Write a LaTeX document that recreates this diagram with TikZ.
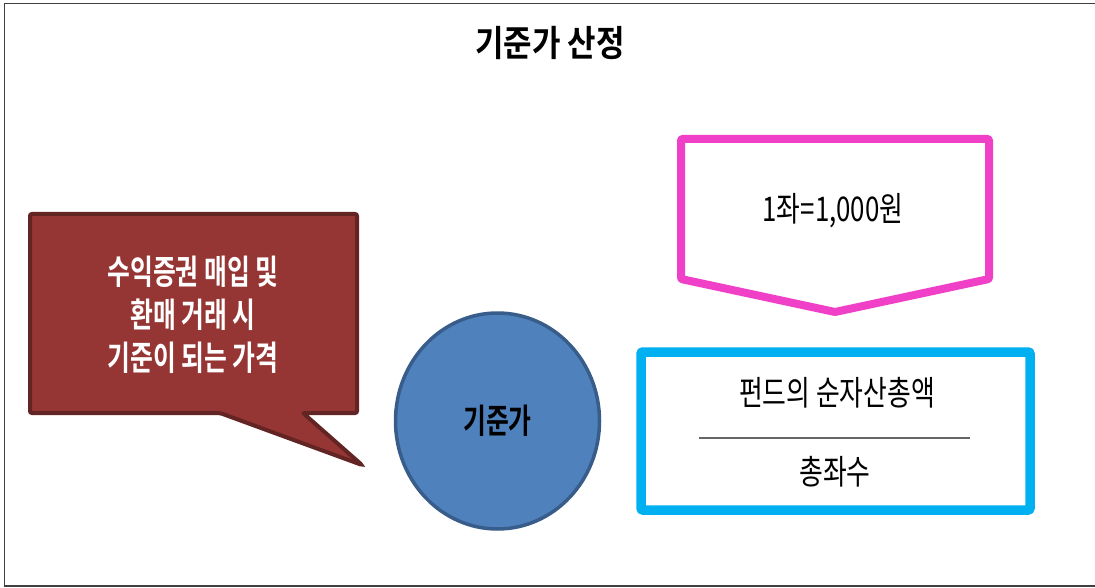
\documentclass[tikz,border=0pt]{standalone}
\usepackage{fontspec}
\setmainfont{Noto Sans CJK KR}[FakeStretch=0.76]
\newfontfamily\boldkr{Noto Sans CJK KR Bold}[FakeStretch=0.73]
\newfontfamily\titlekr{Noto Sans CJK KR Bold}[FakeStretch=0.86]
\usetikzlibrary{shapes.geometric}
\definecolor{calloutfill}{RGB}{150,54,52}
\definecolor{calloutdraw}{RGB}{99,37,35}
\definecolor{circfill}{RGB}{79,129,189}
\definecolor{circdraw}{RGB}{56,93,138}
\definecolor{pinkline}{RGB}{240,64,200}
\definecolor{blueline}{RGB}{0,176,240}
\tikzset{
  ttl/.style={font=\titlekr\fontsize{36}{40}\selectfont},
  bodytxt/.style={font=\fontsize{34}{40}\selectfont, text=black},
  notetxt/.style={font=\boldkr\fontsize{34}{43}\selectfont, text=white, align=center},
}
\begin{document}
\begin{tikzpicture}[x=1pt,y=-1pt]
\useasboundingbox (0,0) rectangle (1095,588);
\draw[line width=1.5, black!75] (1095,3.5) -- (4.5,3.5) -- (4.5,586) -- (1095,586);
\node[ttl] (title) at (550,43) {기준가 산정};
% callout
\draw[fill=calloutfill, draw=calloutdraw, line width=4, rounded corners=2]
  (30,214) -- (357,214) -- (357,413) -- (303,413) -- (362,465) -- (220,413) -- (30,413) -- cycle;
\node[notetxt] (note) at (193,315) {수익증권 매입 및\\환매 거래 시\\기준이 되는 가격};
% circle
\node[ellipse, minimum width=204, minimum height=216, fill=circfill, draw=circdraw, line width=3.5,
  font=\boldkr\fontsize{34}{40}\selectfont] (base) at (497.5,421) {기준가};
% pink pentagon
\draw[pinkline, line width=8, line join=round, rounded corners=1]
  (681,139) -- (989,139) -- (989,279) -- (835,312) -- (681,279) -- cycle;
\node[bodytxt] (unit) at (833,211) {1좌=1,000원};
% blue box
\draw[blueline, line width=9.5, rounded corners=2] (641,352) rectangle (1030,510);
\node[bodytxt] (num) at (837,393) {펀드의 순자산총액};
\node[bodytxt] (den) at (835,472) {총좌수};
\coordinate (fl) at (699,438);
\coordinate (fr) at (970,438);
\draw[black!60, line width=2.5] (fl) -- (fr);
\end{tikzpicture}
\end{document}
